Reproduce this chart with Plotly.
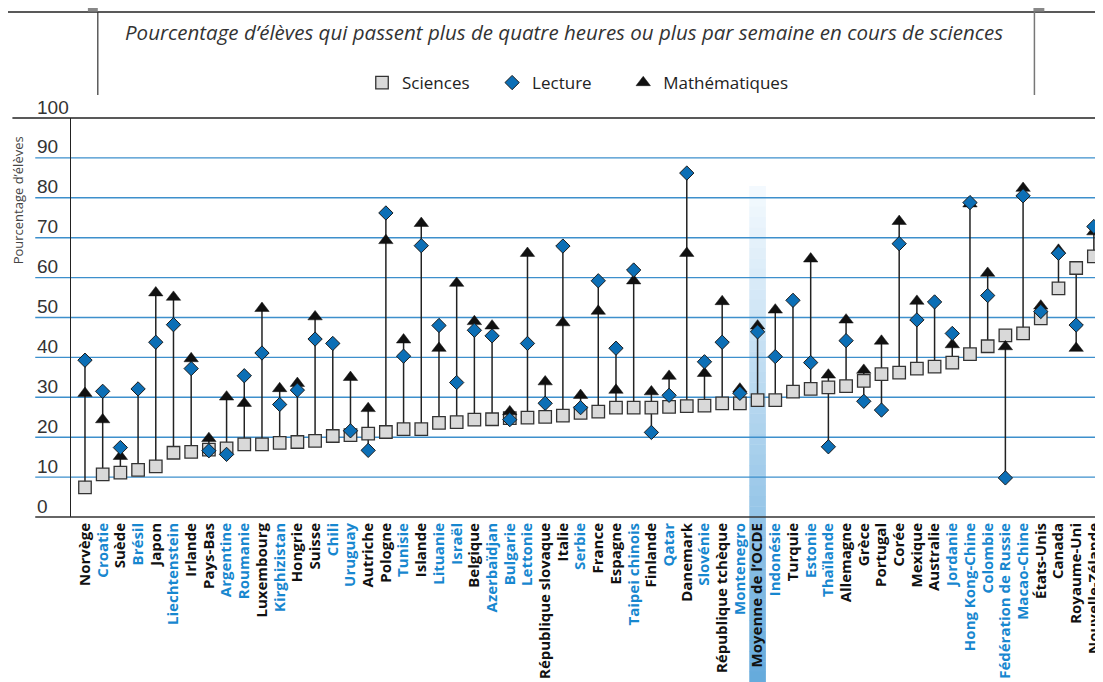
import plotly.graph_objects as go

# ---------------- data ----------------
countries = ["Norvège", "Croatie", "Suède", "Brésil", "Japon", "Liechtenstein", "Irlande",
             "Pays-Bas", "Argentine", "Roumanie", "Luxembourg", "Kirghizistan", "Hongrie",
             "Suisse", "Chili", "Uruguay", "Autriche", "Pologne", "Tunisie", "Islande",
             "Lituanie", "Israël", "Belgique", "Azerbaïdjan", "Bulgarie", "Lettonie",
             "République slovaque", "Italie", "Serbie", "France", "Espagne", "Taipei chinois",
             "Finlande", "Qatar", "Danemark", "Slovénie", "République tchèque", "Montenegro",
             "Moyenne de l’OCDE", "Indonésie", "Turquie", "Estonie", "Thaïlande", "Allemagne",
             "Grèce", "Portugal", "Corée", "Mexique", "Australie", "Jordanie",
             "Hong Kong-Chine", "Colombie", "Fédération de Russie", "Macao-Chine",
             "États-Unis", "Canada", "Royaume-Uni", "Nouvelle-Zélande"]

partners = ["Croatie", "Brésil", "Liechtenstein", "Argentine", "Roumanie", "Kirghizistan",
            "Chili", "Uruguay", "Tunisie", "Lituanie", "Israël", "Azerbaïdjan", "Bulgarie",
            "Lettonie", "Serbie", "Taipei chinois", "Qatar", "Slovénie", "Montenegro",
            "Indonésie", "Estonie", "Thaïlande", "Jordanie", "Hong Kong-Chine", "Colombie",
            "Fédération de Russie", "Macao-Chine"]

average_label = "Moyenne de l’OCDE"

sciences = [7.4, 10.7, 11.1, 11.8, 12.7, 16.1, 16.3, 16.9, 17.2, 18.2, 18.2, 18.6, 18.8,
            19.1, 20.3, 20.5, 20.9, 21.3, 22.0, 22.0, 23.6, 23.8, 24.4, 24.5, 24.8, 24.9,
            25.1, 25.4, 26.1, 26.4, 27.4, 27.4, 27.4, 27.6, 27.8, 27.9, 28.5, 28.5,
            29.3, 29.3, 31.4, 32.1, 32.5, 32.8, 34.1, 35.8, 36.2, 37.2, 37.7, 38.7,
            40.8, 42.8, 45.5, 46.0, 49.8, 57.3, 62.4, 65.3]

lecture = [39.3, 31.5, 17.4, 32.1, 43.8, 48.2, 37.2, 16.6, 15.7, 35.4, 41.1, 28.2, 31.8,
           44.6, 43.5, 21.6, 16.7, 76.2, 40.3, 68.0, 48.0, 33.7, 46.8, 45.4, 24.4, 43.5,
           28.5, 67.9, 27.4, 59.2, 42.3, 61.9, 21.2, 30.5, 86.2, 38.9, 43.8, 31.0,
           46.4, 40.2, 54.3, 38.7, 17.6, 44.2, 29.0, 26.8, 68.5, 49.4, 53.9, 46.0,
           78.8, 55.5, 9.8, 80.5, 51.5, 66.1, 48.1, 72.8]

mathematiques = [31.0, 24.4, 15.2, None, 56.2, 55.1, 39.7, 19.7, 30.1, 28.5, 52.3, 32.2, 33.5,
                 50.2, None, 35.0, 27.2, 69.3, 44.4, 73.6, 42.3, 58.6, 49.0, 47.9, 26.4, 66.1,
                 33.9, 48.7, 30.5, 51.6, 31.8, 59.2, 31.4, 35.3, 66.1, 36.0, 54.0, 32.1,
                 47.9, 51.9, None, 64.7, 35.6, 49.4, 36.8, 44.1, 74.1, 54.1, None, 43.2,
                 78.5, 61.1, 42.7, 82.4, 52.9, 66.9, 42.3, 71.5]

y_ticks = [0, 10, 20, 30, 40, 50, 60, 70, 80, 90, 100]

title_text = "Pourcentage d’élèves qui passent plus de quatre heures ou plus par semaine en cours de sciences"
y_title = "Pourcentage d’élèves"
series_names = ["Sciences", "Lecture", "Mathématiques"]

# ---------------- geometry / styles ----------------
W, H = 1103, 682
OFF = 8  # page offset of the figure (body margin)
# desired page-pixel positions of the plot area
P_LEFT, P_RIGHT, P_TOP, P_BOTTOM = 71, 1103, 118, 517
ML, MT = P_LEFT - OFF, P_TOP - OFF
MR = W - (P_RIGHT - OFF)
MB = H - (P_BOTTOM - OFF)
PW, PH = P_RIGHT - P_LEFT, P_BOTTOM - P_TOP
XMIN, XMAX = -0.79, 57.12
YMIN, YMAX = 0, 100

BLUE_TXT = "#1787cf"
BLUE_MARK = "#0c6fb6"
GRID_BLUE = "#3d8fcc"


def paper_x(px):  # px in page coordinates
    return (px - P_LEFT) / PW


def paper_y(py):
    return (P_BOTTOM - py) / PH


def cat_to_paper(c):
    return (c - XMIN) / (XMAX - XMIN)


x_idx = list(range(len(countries)))

# stems
sx, sy = [], []
for i in x_idx:
    vals = [v for v in (sciences[i], lecture[i], mathematiques[i]) if v is not None]
    sx += [i, i, None]
    sy += [min(vals), max(vals), None]

fig = go.Figure()
fig.add_trace(go.Scatter(x=sx, y=sy, mode="lines", line=dict(color="#222222", width=1.5),
                         showlegend=False, hoverinfo="skip", cliponaxis=False))
fig.add_trace(go.Scatter(x=x_idx, y=sciences, mode="markers", name=series_names[0],
                         legend="legend", cliponaxis=False,
                         marker=dict(symbol="square", size=12.5, color="#d9d9d9",
                                     line=dict(color="#333333", width=1.3))))
fig.add_trace(go.Scatter(x=x_idx, y=mathematiques, mode="markers", name=series_names[2],
                         legend="legend3", cliponaxis=False,
                         marker=dict(symbol="triangle-up", size=12.5, color="#111111",
                                     line=dict(color="#111111", width=0.5))))
fig.add_trace(go.Scatter(x=x_idx, y=lecture, mode="markers", name=series_names[1],
                         legend="legend2", cliponaxis=False,
                         marker=dict(symbol="diamond", size=11, color=BLUE_MARK,
                                     line=dict(color="#1a1a1a", width=1))))

shapes = []
# OECD average highlight band (vertical gradient built from strips)
avg_i = countries.index(average_label)
bx0, bx1 = cat_to_paper(avg_i - 0.47), cat_to_paper(avg_i + 0.47)
top_py, bot_py = 186, H
N = 48
c0, c1 = (245, 250, 254), (100, 170, 220)
for k in range(N):
    t = (k + 0.5) / N
    col = tuple(round(c0[j] + (c1[j] - c0[j]) * t) for j in range(3))
    y0p = top_py + (bot_py - top_py) * k / N
    y1p = top_py + (bot_py - top_py) * (k + 1) / N
    shapes.append(dict(type="rect", xref="paper", yref="paper", x0=bx0, x1=bx1,
                       y0=paper_y(y1p) - 0.001, y1=paper_y(y0p),
                       fillcolor="rgb(%d,%d,%d)" % col, line=dict(width=0), layer="below"))

# gridlines
for v in y_ticks[1:-1]:
    shapes.append(dict(type="line", xref="paper", yref="y", x0=paper_x(35), x1=1, y0=v, y1=v,
                       line=dict(color=GRID_BLUE, width=1.4), layer="below"))
shapes.append(dict(type="line", xref="paper", yref="paper", x0=paper_x(35), x1=1, y0=0, y1=0,
                   line=dict(color="#333333", width=1.4), layer="above"))
shapes.append(dict(type="line", xref="paper", yref="paper", x0=paper_x(12), x1=1, y0=1, y1=1,
                   line=dict(color="#222222", width=1.4), layer="above"))
# frame decorations at top
shapes.append(dict(type="line", xref="paper", yref="paper", x0=paper_x(0), x1=paper_x(W), y0=paper_y(12),
                   y1=paper_y(12), line=dict(color="#222222", width=1.5)))
shapes.append(dict(type="line", xref="paper", yref="paper", x0=paper_x(98), x1=paper_x(98),
                   y0=paper_y(12), y1=paper_y(95), line=dict(color="#333333", width=1.2)))
shapes.append(dict(type="line", xref="paper", yref="paper", x0=paper_x(1041), x1=paper_x(1041),
                   y0=paper_y(12), y1=paper_y(95), line=dict(color="#777777", width=1.5)))
shapes.append(dict(type="rect", xref="paper", yref="paper", x0=paper_x(88), x1=paper_x(98),
                   y0=paper_y(11.5), y1=paper_y(OFF), fillcolor="#888888", line=dict(width=0)))
shapes.append(dict(type="rect", xref="paper", yref="paper", x0=paper_x(1040), x1=paper_x(1051),
                   y0=paper_y(11.5), y1=paper_y(OFF), fillcolor="#888888", line=dict(width=0)))

annotations = []
for v in y_ticks:
    annotations.append(dict(x=paper_x(35), xref="paper", y=v, yref="y", text=str(v),
                            showarrow=False, xanchor="left", yanchor="middle", yshift=11,
                            font=dict(family="Liberation Sans", size=19, color="#333333")))
annotations.append(dict(x=paper_x(18), xref="paper", y=paper_y(200), yref="paper", text=y_title,
                        textangle=-90, showarrow=False, xanchor="center", yanchor="middle",
                        font=dict(family="Open Sans", size=13, color="#444444")))
annotations.append(dict(x=paper_x(567), xref="paper", y=paper_y(32), yref="paper",
                        text="<i>" + title_text + "</i>", showarrow=False,
                        xanchor="center", yanchor="middle",
                        font=dict(family="Open Sans", size=20.5, color="#333333")))

ticktext = []
for c in countries:
    if c in partners:
        ticktext.append('<b><span style="color:%s">%s</span></b>' % (BLUE_TXT, c))
    else:
        ticktext.append("<b>%s</b>" % c)

legend_common = dict(orientation="h", xanchor="left", yanchor="middle", y=paper_y(83),
                     font=dict(family="Open Sans", size=17, color="#222222"),
                     bgcolor="rgba(0,0,0,0)")

fig.update_layout(
    width=W, height=H,
    margin=dict(l=ML, r=MR, t=MT, b=MB, pad=0),
    paper_bgcolor="white", plot_bgcolor="white",
    font=dict(family="Open Sans", color="#111111"),
    shapes=shapes, annotations=annotations,
    legend=dict(x=paper_x(364), **legend_common),
    legend2=dict(x=paper_x(495), **legend_common),
    legend3=dict(x=paper_x(627), **legend_common),
    xaxis=dict(range=[XMIN, XMAX], tickmode="array", tickvals=x_idx, ticktext=ticktext,
               tickangle=-90, ticks="", showgrid=False, zeroline=False, showline=False,
               tickfont=dict(family="Open Sans", size=15, color="#111111"),
               ticklabelstandoff=2, fixedrange=True),
    yaxis=dict(range=[YMIN, YMAX], showticklabels=False, ticks="", showgrid=False,
               zeroline=False, showline=True, linecolor="#222222", linewidth=1.4,
               fixedrange=True),
)

fig.write_html("out.html")
